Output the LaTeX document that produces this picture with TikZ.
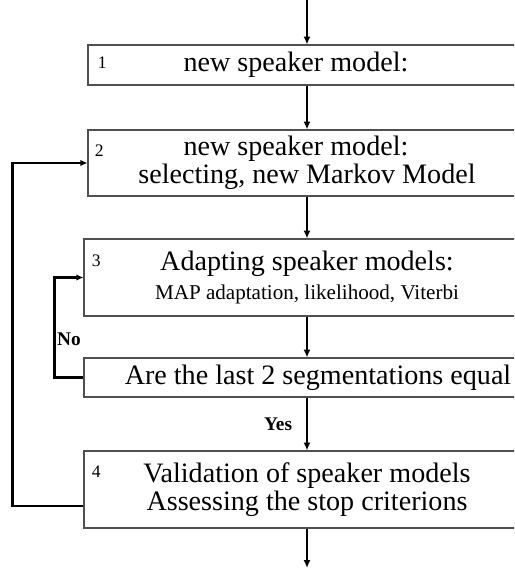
\documentclass[tikz,border=0pt]{standalone}
\usepackage{fontspec}
\setmainfont{Liberation Serif}
\usetikzlibrary{arrows.meta, positioning, calc}
\definecolor{CBorder}{HTML}{505050}
\definecolor{CDark}{HTML}{000000}

\begin{document}
\begin{tikzpicture}[
    % Reusable styles for boxes, labels and arrows
    procbox/.style={draw=CBorder, line width=0.6pt, rectangle, inner sep=0pt,
        align=center, font=\fontsize{16}{16}\selectfont},
    num/.style={inner sep=0pt, font=\fontsize{10}{10}\selectfont},
    tag/.style={inner sep=0pt, font=\fontsize{11}{11}\selectfont\bfseries},
    mainarrow/.style={-{Latex[length=4.5pt, width=4pt]}, CDark, line width=1.1pt},
    backline/.style={-{Latex[length=4pt, width=3.6pt]}, CDark, line width=1.4pt}
]

    % Picture frame (boxes run past the right edge)
    \useasboundingbox (0,0) rectangle (10.28,-11.38);
    \clip (0,0) rectangle (10.28,-11.38);

    % -------------------------
    % Processing steps
    % -------------------------
    \node[procbox, minimum width=8.76cm, minimum height=0.8cm] (b1) at (6.14,-1.30)
        {new speaker model:\hspace*{0.44cm}};
    \node[procbox, minimum width=8.76cm, minimum height=1.32cm] (b2) at (6.14,-3.26)
        {new speaker model:\hspace*{0.44cm}\\ selecting, new Markov Model};
    \node[procbox, minimum width=8.92cm, minimum height=1.54cm] (b3) at (6.14,-5.55)
        {Adapting speaker models:\\[1pt] {\fontsize{12}{12}\selectfont MAP adaptation, likelihood, Viterbi}};
    \node[procbox, minimum width=8.92cm, minimum height=0.78cm] (b4) at (6.14,-7.55)
        {\hspace*{0.44cm}Are the last 2 segmentations equal};
    \node[procbox, minimum width=8.92cm, minimum height=1.54cm] (b5) at (6.14,-9.79)
        {Validation of speaker models\\ Assessing the stop criterions};

    % Step numbers in the top-left corners
    \node[num, anchor=north west] (n1) at ([shift={(0.20,-0.24)}]b1.north west) {1};
    \node[num, anchor=north west] (n2) at ([shift={(0.14,-0.30)}]b2.north west) {2};
    \node[num, anchor=north west] (n3) at ([shift={(0.16,-0.32)}]b3.north west) {3};
    \node[num, anchor=north west] (n4) at ([shift={(0.16,-0.30)}]b5.north west) {4};

    % In / out of the flow
    \coordinate (in) at (6.14,0);
    \coordinate (out) at (6.14,-11.36);

    % Main top-down flow
    \draw[mainarrow] (in) -- (b1.north);
    \draw[mainarrow] (b1.south) -- (b2.north);
    \draw[mainarrow] (b2.south) -- (b3.north);
    \draw[mainarrow] (b3.south) -- (b4.north);
    \draw[mainarrow] (b4.south) -- node[tag, left=0.28cm] (yes) {Yes} (b5.north);
    \draw[mainarrow] (b5.south) -- (out);

    % Inner loop: segmentation not stable yet
    \draw[backline] (b4.west) -- ++(-0.58,0) |- (b3.west);
    \node[tag] (no) at (1.38,-6.78) {No};

    % Outer loop: back to new speaker model
    \draw[backline] ([yshift=-0.33cm]b5.west) -- ++(-1.42,0) |- (b2.west);

\end{tikzpicture}
\end{document}
